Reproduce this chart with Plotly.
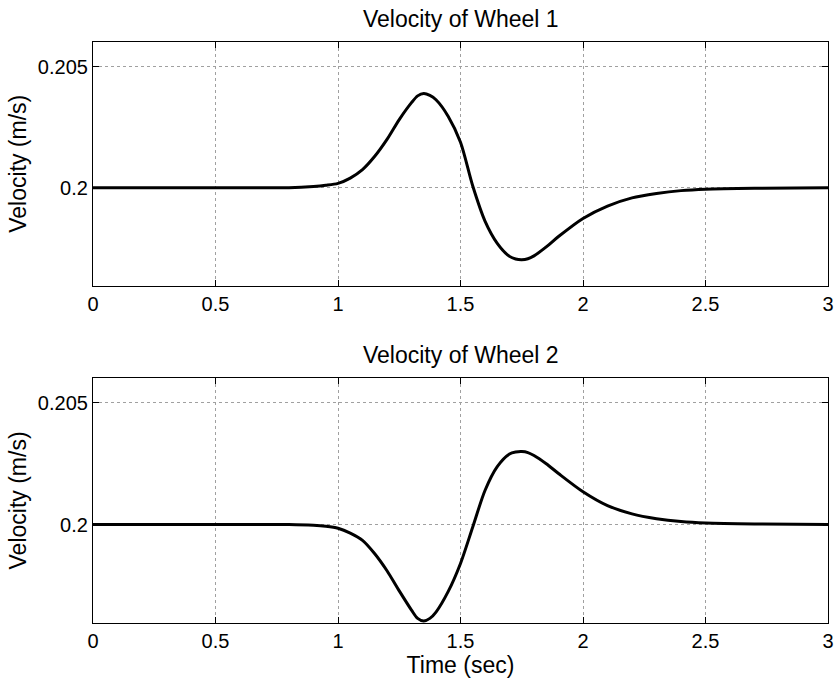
import plotly.graph_objects as go

time_s = [0.0, 0.5, 0.8, 0.9, 0.95, 1.0, 1.05, 1.1, 1.15, 1.2, 1.25, 1.3, 1.325, 1.35, 1.375, 1.4, 1.45, 1.5,
          1.55, 1.6, 1.65, 1.7, 1.725, 1.75, 1.775, 1.8, 1.85, 1.9, 2.0, 2.1, 2.2, 2.3, 2.4, 2.5, 2.7, 3.0]

wheel1_velocity = [0.2, 0.2, 0.2, 0.20005, 0.20010, 0.20018, 0.20040, 0.20075, 0.20130, 0.20200, 0.20282,
                   0.20352, 0.20380, 0.20390, 0.20382, 0.20364, 0.20295, 0.20188, 0.20007, 0.19862, 0.19770,
                   0.19716, 0.19705, 0.19702, 0.19706, 0.19718, 0.19755, 0.19798, 0.19873, 0.19924, 0.19958,
                   0.19976, 0.19988, 0.19994, 0.19998, 0.2]

wheel2_velocity = [0.2, 0.2, 0.2, 0.19997, 0.19993, 0.19985, 0.19965, 0.19935, 0.19880, 0.19810, 0.19727,
                   0.19648, 0.19614, 0.19603, 0.19614, 0.19640, 0.19725, 0.19840, 0.19990, 0.20140, 0.20238,
                   0.20290, 0.20298, 0.20300, 0.20296, 0.20284, 0.20250, 0.20210, 0.20135, 0.20078, 0.20044,
                   0.20024, 0.20012, 0.20006, 0.20002, 0.2]

x_ticks = [0, 0.5, 1, 1.5, 2, 2.5, 3]
x_tick_labels = ["0", "0.5", "1", "1.5", "2", "2.5", "3"]
y_ticks = [0.2, 0.205]
y_tick_labels = ["0.2", "0.205"]
titles = ["Velocity of Wheel 1", "Velocity of Wheel 2"]
y_label = "Velocity (m/s)"
x_label = "Time (sec)"

FONT = "Liberation Sans, Arial, sans-serif"

fig = go.Figure()
fig.add_trace(go.Scatter(x=time_s, y=wheel1_velocity, mode="lines",
                         line=dict(color="black", width=3, shape="spline", smoothing=0.8),
                         xaxis="x", yaxis="y", showlegend=False))
fig.add_trace(go.Scatter(x=time_s, y=wheel2_velocity, mode="lines",
                         line=dict(color="black", width=3, shape="spline", smoothing=0.8),
                         xaxis="x2", yaxis="y2", showlegend=False))

common_x = dict(range=[0, 3], tickvals=x_ticks, ticktext=x_tick_labels, ticks="inside", ticklen=6,
                tickcolor="black", showline=True, linecolor="black", linewidth=1.2, mirror="ticks",
                showgrid=True, gridcolor="#a0a0a0", griddash="dot", gridwidth=1, zeroline=False,
                tickfont=dict(family=FONT, size=20, color="black"))
common_y = dict(range=[0.19595, 0.20603], tickvals=y_ticks, ticktext=y_tick_labels, ticks="inside", ticklen=6,
                tickcolor="black", showline=True, linecolor="black", linewidth=1.2, mirror="ticks",
                showgrid=True, gridcolor="#a0a0a0", griddash="dot", gridwidth=1, zeroline=False,
                tickfont=dict(family=FONT, size=20, color="black"),
                title=dict(text=y_label, font=dict(family=FONT, size=23, color="black"), standoff=4))

fig.update_layout(
    width=837, height=679,
    margin=dict(l=93, r=9, t=42, b=56, autoexpand=False),
    paper_bgcolor="white", plot_bgcolor="white",
    xaxis=dict(domain=[0, 1], anchor="y", **common_x),
    yaxis=dict(domain=[0.5807, 1], anchor="x", **common_y),
    xaxis2=dict(domain=[0, 1], anchor="y2",
                title=dict(text=x_label, font=dict(family=FONT, size=23, color="black"), standoff=2),
                **common_x),
    yaxis2=dict(domain=[0, 0.4218], anchor="x2", **common_y),
    annotations=[
        dict(text=titles[0], x=0.5, y=1, xref="paper", yref="paper", yanchor="bottom", yshift=8,
             showarrow=False, font=dict(family=FONT, size=23, color="black")),
        dict(text=titles[1], x=0.5, y=0.4218, xref="paper", yref="paper", yanchor="bottom", yshift=8,
             showarrow=False, font=dict(family=FONT, size=23, color="black")),
    ],
)

fig.write_html("out.html", config={"displayModeBar": False},
               post_script="document.body.style.margin='0';document.body.style.overflow='hidden';")
